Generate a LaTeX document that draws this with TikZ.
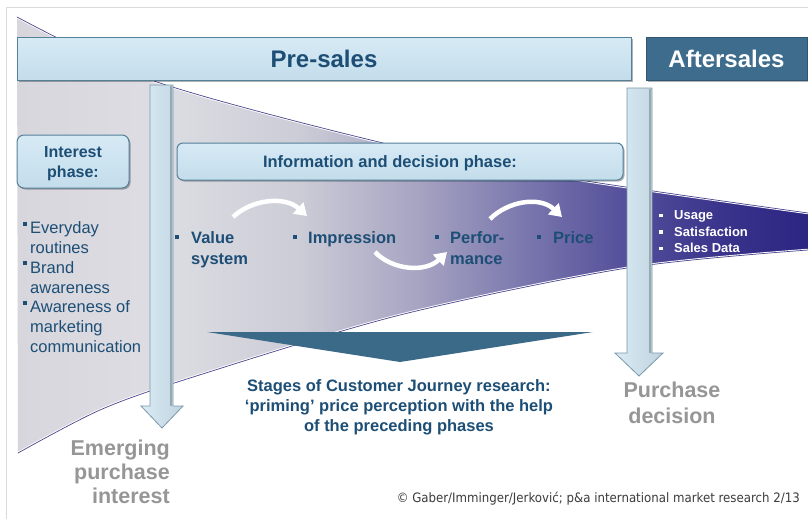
\documentclass[tikz,border=0pt]{standalone}
\usepackage{fontspec}
\setmainfont{Liberation Sans}
\newfontfamily\notefont{DejaVu Sans}
\usetikzlibrary{arrows.meta,shadows}

\definecolor{ink}{HTML}{1D4E75}
\definecolor{barhi}{HTML}{D6EAF5}
\definecolor{barlo}{HTML}{C4DDEB}
\definecolor{barline}{HTML}{55809A}
\definecolor{afterfill}{HTML}{3E6C8C}
\definecolor{afterline}{HTML}{2E5672}
\definecolor{tealtri}{HTML}{3B6A89}
\definecolor{graytxt}{HTML}{969696}
\definecolor{framegray}{HTML}{DADADA}
\definecolor{shafthi}{HTML}{DAEBF4}
\definecolor{shaftlo}{HTML}{BFD3DF}
\definecolor{shaftline}{HTML}{7A98AB}
\definecolor{shaftdark}{HTML}{98A9B4}
\definecolor{edgecol}{HTML}{4B468C}
\definecolor{noteink}{HTML}{3C3C3C}
% funnel gradient stops, left to right
\definecolor{fa}{RGB}{214,214,220}
\definecolor{fb}{RGB}{221,221,227}
\definecolor{fc}{RGB}{204,204,215}
\definecolor{fd}{RGB}{165,163,193}
\definecolor{fe}{RGB}{124,121,175}
\definecolor{ff}{RGB}{86,81,155}
\definecolor{fg}{RGB}{58,52,140}
\definecolor{fh}{RGB}{44,37,130}

% bullets
\newcommand{\sqL}{\makebox[7pt][l]{\rule[8pt]{4pt}{4pt}}}
\newcommand{\indL}{\hspace*{7pt}}
\newcommand{\sqB}[1]{\makebox[#1][l]{\rule[4pt]{4pt}{4pt}}}
\newcommand{\sqS}{\makebox[15pt][l]{\rule[2.5pt]{3.5pt}{3.5pt}}}

\begin{document}
\begin{tikzpicture}[x=1pt,y=-1pt,
  txt/.style={inner sep=0pt, text=ink},
  barbox/.style={draw=barline, line width=1pt, top color=barhi, bottom color=barlo,
    inner sep=0pt, text=ink,
    drop shadow={shadow xshift=1.5pt, shadow yshift=-1.5pt, opacity=0.3, fill=black}},
  phasebox/.style={barbox, rounded corners=7pt},
  vshaft/.style={draw=shaftline, line width=0.8pt, left color=shafthi, right color=shaftlo},
  swoosh/.style={white, line width=4.5pt, -{Triangle[length=12pt,width=15pt]}},
  edgehi/.style={white, line width=2.5pt},
  edgeln/.style={edgecol, line width=0.7pt}]

\useasboundingbox (0,0) rectangle (808,519);
\fill[white] (0,0) rectangle (808,519);

% page frame
\draw[framegray, line width=0.8pt] (6,519) -- (6,7) -- (808,7);

% funnel body
\begin{scope}
  \clip plot[smooth] coordinates {(17,17) (157,82) (400,147) (580,180) (808,213)}
     -- plot[smooth] coordinates {(808,250) (627,268) (400,315) (190,378) (100,410) (18,453)}
     -- cycle;
  \shade[left color=fa, right color=fb] (16,0) rectangle (160.5,519);
  \shade[left color=fb, right color=fc] (160,0) rectangle (300.5,519);
  \shade[left color=fc, right color=fd] (300,0) rectangle (420.5,519);
  \shade[left color=fd, right color=fe] (420,0) rectangle (520.5,519);
  \shade[left color=fe, right color=ff] (520,0) rectangle (620.5,519);
  \shade[left color=ff, right color=fg] (620,0) rectangle (720.5,519);
  \shade[left color=fg, right color=fh] (720,0) rectangle (808,519);
\end{scope}
% funnel rims
\draw[edgehi] plot[smooth] coordinates {(17,17) (157,82) (400,147) (580,180) (808,213)};
\draw[edgeln] plot[smooth] coordinates {(17,17) (157,82) (400,147) (580,180) (808,213)};
\draw[edgehi] plot[smooth] coordinates {(808,250) (627,268) (400,315) (190,378) (100,410) (18,453)};
\draw[edgeln] plot[smooth] coordinates {(808,250) (627,268) (400,315) (190,378) (100,410) (18,453)};

% wedge pointing at the caption
\fill[tealtri] (207,332) -- (593,332) -- (400,362) -- cycle;

% phase bars
\node[barbox, minimum width=614pt, minimum height=42pt, text height=17pt, text depth=0pt,
  font=\bfseries\fontsize{24}{28}\selectfont] (presales) at (324,59) {Pre-sales};
\node[draw=afterline, line width=1pt, fill=afterfill, text=white, inner sep=0pt,
  minimum width=161pt, minimum height=42pt, text height=17pt, text depth=0pt,
  drop shadow={shadow xshift=1.5pt, shadow yshift=-1.5pt, opacity=0.3, fill=black},
  font=\bfseries\fontsize{24}{28}\selectfont] (aftersales) at (726.5,59) {Aftersales};
\node[phasebox, minimum width=112pt, minimum height=53pt, align=center, text depth=0pt,
  font=\bfseries\fontsize{16}{20}\selectfont] (interest) at (73,161.5) {Interest\\phase:};
\node[phasebox, rounded corners=6pt, minimum width=446pt, minimum height=37pt,
  text height=11.8pt, text depth=0pt,
  font=\bfseries\fontsize{16.5}{20}\selectfont] (infobox) at (400,161.5)
  {Information and decision phase:\hspace*{20pt}};

% vertical arrows
\path[vshaft] (150,85) -- (173,85) -- (173,406) -- (183,406) -- (162,428) -- (141,406) -- (150,406) -- cycle;
\draw[shaftdark, line width=1.5pt] (171,86) -- (171,406);
\path[vshaft] (627,88) -- (652,88) -- (652,353) -- (663,353) -- (639,376) -- (615,353) -- (627,353) -- cycle;
\draw[shaftdark, line width=1.5pt] (650,89) -- (650,353);

% interest phase list (anchored at the baseline of its last line)
\node[txt, anchor=base west, align=left, font=\fontsize{16.5}{19.8}\selectfont] (interestlist) at (23,352.5)
  {\sqL Everyday\\\indL routines\\\sqL Brand\\\indL awareness\\\sqL Awareness of\\\indL marketing\\\indL communication};

% decision stages
\node[txt, anchor=base west, align=left, font=\bfseries\fontsize{16.5}{21}\selectfont] (value) at (175,264)
  {\sqB{16pt}Value\\\hspace*{16pt}system};
\node[txt, anchor=base west, font=\bfseries\fontsize{16.5}{21}\selectfont] (impression) at (293,243)
  {\sqB{15pt}Impression};
\node[txt, anchor=base west, align=left, font=\bfseries\fontsize{16.5}{21}\selectfont] (performance) at (435,264)
  {\sqB{15pt}Perfor-\\\hspace*{15pt}mance};
\node[txt, anchor=base west, font=\bfseries\fontsize{16.5}{21}\selectfont] (price) at (537,243)
  {\sqB{16pt}Price};

% stage transitions
\coordinate (s1a) at (233,217); \coordinate (s1b) at (307,216);
\coordinate (s2a) at (375,252); \coordinate (s2b) at (447,252);
\coordinate (s3a) at (490,219); \coordinate (s3b) at (562,217);
\draw[swoosh] (s1a) .. controls (252,199) and (285,196) .. (s1b);
\draw[swoosh] (s2a) .. controls (392,270) and (425,273) .. (s2b);
\draw[swoosh] (s3a) .. controls (508,201) and (540,196) .. (s3b);

% aftersales list
\node[inner sep=0pt, text=white, anchor=base west, align=left, font=\bfseries\fontsize{13}{16.5}\selectfont] (afterlist) at (659,252.5)
  {\sqS Usage\\\sqS Satisfaction\\\sqS Sales Data};

% caption
\node[txt, anchor=base, align=center, font=\bfseries\fontsize{16.5}{20}\selectfont] (caption) at (399,431)
  {Stages of Customer Journey research:\\‘priming’ price perception with the help\\of the preceding phases};

% arrow end labels
\node[inner sep=0pt, text=graytxt, anchor=base east, align=right, font=\bfseries\fontsize{21.5}{24}\selectfont] (emerging) at (170,503)
  {Emerging\\purchase\\interest};
\node[inner sep=0pt, text=graytxt, anchor=base, align=center, font=\bfseries\fontsize{21.5}{26}\selectfont] (purchase) at (672,423)
  {Purchase\\decision};

% source line
\node[inner sep=0pt, text=noteink, anchor=base east] (source) at (800,502)
  {\resizebox{403pt}{\height}{\notefont\fontsize{13}{15}\selectfont © Gaber/Imminger/Jerković; p\&a international market research 2/13}};

\end{tikzpicture}
\end{document}
